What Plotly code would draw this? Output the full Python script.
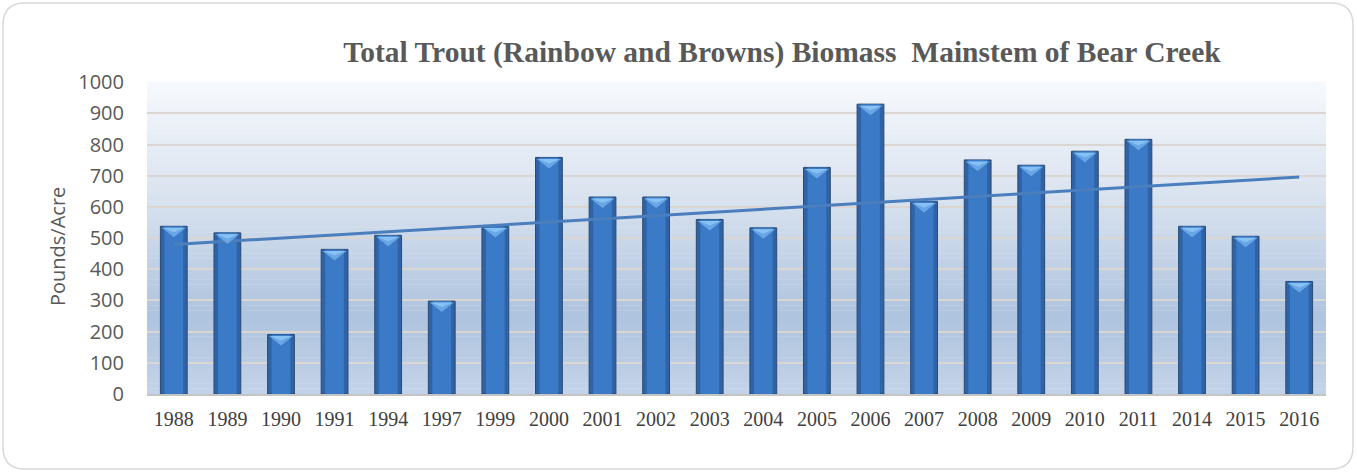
import numpy as np
import plotly.graph_objects as go

# ---- data ----
years = ["1988", "1989", "1990", "1991", "1994", "1997", "1999", "2000", "2001", "2002",
         "2003", "2004", "2005", "2006", "2007", "2008", "2009", "2010", "2011", "2014",
         "2015", "2016"]
biomass = [538, 517, 191, 464, 509, 298, 537, 759, 632, 632,
           560, 533, 727, 930, 618, 751, 734, 779, 817, 538,
           506, 361]
y_ticks = [0, 100, 200, 300, 400, 500, 600, 700, 800, 900, 1000]
title_text = "Total Trout (Rainbow and Browns) Biomass  Mainstem of Bear Creek"
y_title = "Pounds/Acre"

# linear trendline (least squares on category index)
idx = np.arange(len(biomass))
slope, intercept = np.polyfit(idx, biomass, 1)
trend = slope * idx + intercept

# ---- layout geometry ----
W, H = 1357, 472
ML, MR, MT, MB = 147, 31, 82, 78
PW, PH = W - ML - MR, H - MT - MB


def px(x):
    return (x - ML) / PW


def py(y):
    return (H - MB - y) / PH


def hex2rgb(h):
    h = h.lstrip("#")
    return [int(h[i:i + 2], 16) for i in (0, 2, 4)]


def interp(stops, t):
    for (t0, c0), (t1, c1) in zip(stops[:-1], stops[1:]):
        if t0 <= t <= t1:
            f = (t - t0) / (t1 - t0) if t1 > t0 else 0
            a, b = hex2rgb(c0), hex2rgb(c1)
            return "rgb(%d,%d,%d)" % tuple(round(a[k] + (b[k] - a[k]) * f) for k in range(3))
    return stops[-1][1]


shapes = []
# gradient plot background (top -> bottom)
bg_stops = [(0.0, "#f6f8fc"), (0.35, "#dbe4f0"), (0.75, "#aec3de"), (1.0, "#c3d3e8")]
N = 60
for i in range(N):
    t0, t1 = i / N, (i + 1) / N
    shapes.append(dict(type="rect", xref="paper", yref="paper", x0=0, x1=1,
                       y0=1 - t1, y1=1 - t0 + 0.001, line_width=0,
                       fillcolor=interp(bg_stops, (t0 + t1) / 2), layer="below"))

# rounded outer border
x0, y0, x1, y1, r = 3, 3, 1353, 469, 22
path = (f"M {px(x0 + r)},{py(y0)} L {px(x1 - r)},{py(y0)} "
        f"Q {px(x1)},{py(y0)} {px(x1)},{py(y0 + r)} L {px(x1)},{py(y1 - r)} "
        f"Q {px(x1)},{py(y1)} {px(x1 - r)},{py(y1)} L {px(x0 + r)},{py(y1)} "
        f"Q {px(x0)},{py(y1)} {px(x0)},{py(y1 - r)} L {px(x0)},{py(y0 + r)} "
        f"Q {px(x0)},{py(y0)} {px(x0 + r)},{py(y0)} Z")
shapes.append(dict(type="path", xref="paper", yref="paper", path=path,
                   line=dict(color="#d9d9d9", width=1.5), fillcolor="rgba(0,0,0,0)"))

# light caps at bar tops (bevel look)
for i, v in enumerate(biomass):
    shapes.append(dict(type="path", xref="x", yref="y", xsizemode="pixel", ysizemode="pixel",
                       xanchor=i, yanchor=v, path="M -12,-1.5 L 12,-1.5 L 0,-11 Z",
                       fillcolor="rgba(120,182,240,0.75)", line_width=0, layer="above"))
    shapes.append(dict(type="path", xref="x", yref="y", xsizemode="pixel", ysizemode="pixel",
                       xanchor=i, yanchor=v, path="M -11,-1.5 L 11,-1.5 L 0,-6 Z",
                       fillcolor="rgba(150,205,250,0.7)", line_width=0, layer="above"))

fig = go.Figure()
fig.add_trace(go.Bar(x=years, y=biomass, width=0.5,
                     marker=dict(color="#2f63a6", line=dict(color="#2a4a73", width=1)),
                     showlegend=False, name="Biomass"))
fig.add_trace(go.Bar(x=years, y=biomass, width=0.35,
                     marker=dict(color="#3b7ac6", line=dict(width=0)),
                     showlegend=False, hoverinfo="skip"))
fig.add_trace(go.Scatter(x=years, y=trend, mode="lines",
                         line=dict(color="#4a7ebd", width=3), showlegend=False,
                         name="Linear trend"))

fig.update_layout(
    width=W, height=H,
    margin=dict(l=ML, r=MR, t=MT, b=MB),
    paper_bgcolor="white", plot_bgcolor="rgba(0,0,0,0)",
    barmode="overlay",
    shapes=shapes,
    title=dict(text="<b>" + title_text + "</b>", xref="paper", x=px(782), xanchor="center",
               yref="container", y=1 - 52 / H, yanchor="middle",
               font=dict(family="Liberation Serif", size=29.5, color="#595959")),
    annotations=[dict(text=y_title, xref="paper", yref="paper", x=px(57), y=py(247),
                      textangle=-90, showarrow=False, xanchor="center", yanchor="middle",
                      font=dict(family="Open Sans", size=20, color="#595959"))],
    xaxis=dict(type="category", showgrid=False, showline=True, linecolor="#c4c4c4",
               linewidth=1.5, ticks="", ticklabelstandoff=6,
               tickfont=dict(family="Liberation Serif", size=20, color="#404040")),
    yaxis=dict(range=[0, 1001], tickvals=y_ticks, showgrid=True, gridcolor="#dcd6d2",
               gridwidth=1.5, zeroline=False, showline=False, ticks="", ticklabelstandoff=22,
               tickfont=dict(family="Open Sans", size=20, color="#595959")),
)

fig.write_html("out.html", config={"displayModeBar": False},
               post_script="document.body.style.margin='0';document.body.style.overflow='hidden';")
